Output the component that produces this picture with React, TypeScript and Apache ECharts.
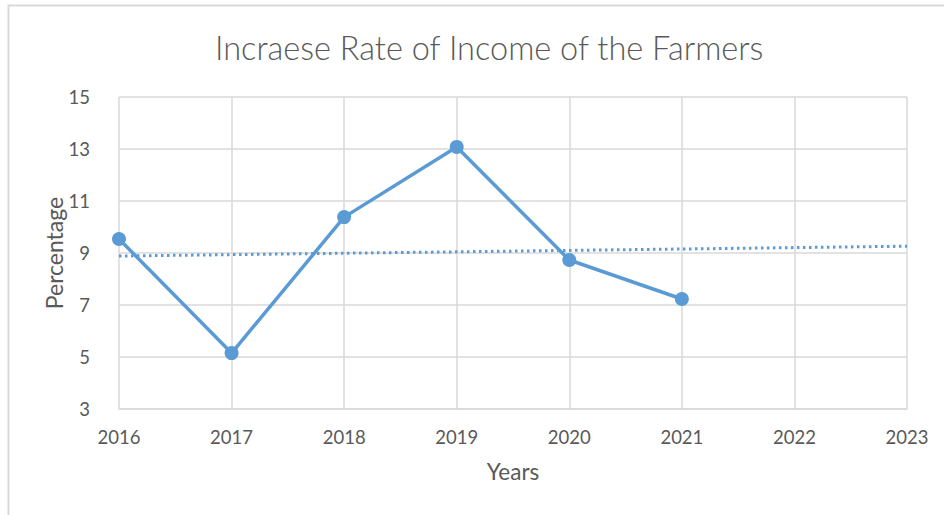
import React, { useEffect, useRef } from "react";
import * as echarts from "echarts";

const years = ["2016", "2017", "2018", "2019", "2020", "2021", "2022", "2023"];
const incomeRate = [9.54, 5.15, 10.38, 13.08, 8.73, 7.23];
const yMin = 3;
const yMax = 15;
const yStep = 2;

// linear trend fitted on the observed points, extended over every year
function trendValues(vals: number[], n: number): number[] {
  const m = vals.length;
  const mx = (m - 1) / 2;
  const my = vals.reduce((a, b) => a + b, 0) / m;
  let num = 0;
  let den = 0;
  vals.forEach((v, i) => {
    num += (i - mx) * (v - my);
    den += (i - mx) * (i - mx);
  });
  const slope = num / den;
  const icpt = my - slope * mx;
  return Array.from({ length: n }, (_, i) => icpt + slope * i);
}

const FONT = "Lato, 'Open Sans', sans-serif";
const GREY = "#595959";
const BLUE = "#5b9bd5";

export default function App() {
  const ref = useRef<HTMLDivElement>(null);
  useEffect(() => {
    if (!ref.current) return;
    const chart = echarts.init(ref.current, undefined, { renderer: "svg" });
    const shift = (v: number) => v - yMin;
    const trend = trendValues(incomeRate, years.length);
    chart.setOption({
      animation: false,
      backgroundColor: "#ffffff",
      title: {
        text: "Incraese Rate of Income of the Farmers",
        left: 210,
        top: 26,
        textStyle: { fontFamily: FONT, fontWeight: 300, fontSize: 32.5, color: GREY },
      },
      graphic: [
        {
          type: "rect",
          shape: { x: 8.5, y: 5.5, width: 1000, height: 600 },
          style: { fill: "none", stroke: "#d9d9d9", lineWidth: 2 },
          silent: true,
        },
      ],
      grid: { left: 119, right: 37, top: 97, bottom: 106 },
      xAxis: {
        type: "category",
        data: years,
        boundaryGap: false,
        name: "Years",
        nameLocation: "middle",
        nameGap: 51,
        nameMoveOverlap: false,
        nameTextStyle: { fontFamily: FONT, fontSize: 22.5, color: GREY },
        axisLine: { show: true, lineStyle: { color: "#d9d9d9", width: 1.5 } },
        axisTick: { show: false },
        axisLabel: { fontFamily: FONT, fontSize: 18.5, color: GREY, margin: 18 },
        splitLine: { show: true, lineStyle: { color: "#d9d9d9", width: 1.5 } },
      },
      yAxis: {
        type: "value",
        min: 0,
        max: yMax - yMin,
        interval: yStep,
        name: "Percentage",
        nameLocation: "middle",
        nameGap: 54,
        nameMoveOverlap: false,
        nameTextStyle: { fontFamily: FONT, fontSize: 23, color: GREY },
        axisLine: { show: false },
        axisTick: { show: false },
        axisLabel: {
          fontFamily: FONT,
          fontSize: 18.5,
          color: GREY,
          margin: 29,
          formatter: (v: number) => String(v + yMin),
        },
        splitLine: { show: true, lineStyle: { color: "#d9d9d9", width: 1.5 } },
      },
      series: [
        {
          name: "Trend",
          type: "line",
          data: trend.map(shift),
          symbol: "none",
          lineStyle: { color: BLUE, width: 3, type: [2.5, 3.5] },
          z: 2,
        },
        {
          name: "Income rate",
          type: "line",
          data: incomeRate.map(shift),
          symbol: "circle",
          symbolSize: 14,
          itemStyle: { color: BLUE },
          lineStyle: { color: BLUE, width: 3.5 },
          z: 3,
        },
      ],
    });
    return () => chart.dispose();
  }, []);
  return (
    <div
      ref={ref}
      style={{ position: "fixed", left: 0, top: 0, width: 944, height: 515 }}
    />
  );
}
